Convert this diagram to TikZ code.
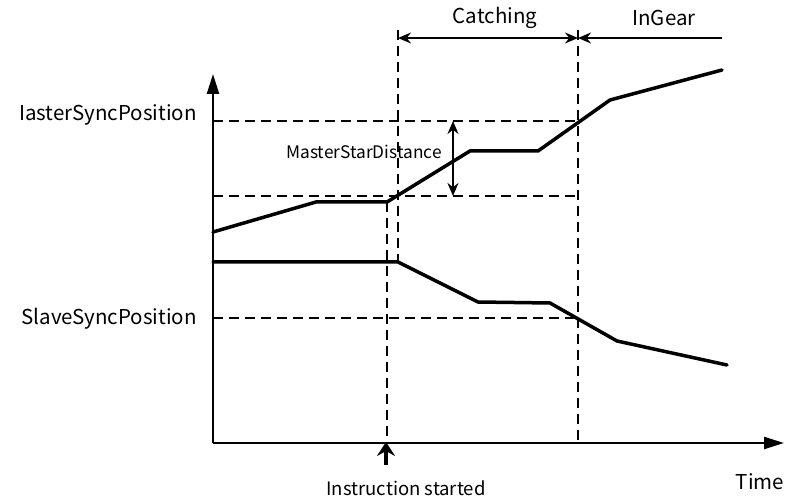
\documentclass[tikz,border=0pt]{standalone}
\usepackage{fontspec}
\setmainfont{Noto Sans CJK SC}
\usetikzlibrary{arrows.meta}
\begin{document}
\begin{tikzpicture}[x=1pt,y=-1pt,
  curve/.style={line width=3.5pt, line join=round, line cap=round},
  axisline/.style={line width=2.3pt,-{Triangle[length=20pt,width=12pt]}},
  guide/.style={line width=1.7pt, dash pattern=on 10pt off 6pt},
  dimline/.style={line width=2pt},
  lbl/.style={font=\fontsize{20.5}{24}\selectfont, inner sep=0pt},
  lblb/.style={font=\fontsize{18.5}{22}\selectfont, inner sep=0pt},
  small/.style={font=\fontsize{17.3}{20}\selectfont, inner sep=0pt}]
\useasboundingbox (0,0) rectangle (787,502);
% axes
\coordinate (O) at (213,443);
\coordinate (Ytop) at (213,74);
\coordinate (Xend) at (784,443);
\draw[axisline] (O) -- (Ytop);
\draw[axisline] (O) -- (Xend);
% master curve points
\coordinate (m0) at (213,232);
\coordinate (m1) at (316,202);
\coordinate (m2) at (387,202);
\coordinate (m3) at (470,151);
\coordinate (m4) at (538,151);
\coordinate (m5) at (610,100);
\coordinate (m6) at (722,70);
% slave curve points
\coordinate (s0) at (213,262);
\coordinate (s1) at (398,262);
\coordinate (s2) at (478,302);
\coordinate (s3) at (550,303);
\coordinate (s4) at (617,341);
\coordinate (s5) at (727,365);
% guide coordinates
\coordinate (hMa) at (213,121);
\coordinate (hMb) at (578,121);
\coordinate (hSa) at (213,196);
\coordinate (hSb) at (578,196);
\coordinate (hPa) at (213,318);
\coordinate (hPb) at (578,318);
\coordinate (vAbot) at (387,443);
\coordinate (vBtop) at (398,30);
\coordinate (vCtop) at (578,30);
\coordinate (vCbot) at (578,443);
% dashed guides
\draw[guide] (hMa) -- (hMb);
\draw[guide] (hSa) -- (hSb);
\draw[guide] (hPa) -- (hPb);
\draw[guide] (m2) -- (vAbot);
\draw[guide] (vBtop) -- (s1);
\draw[guide] (vCtop) -- (vCbot);
% curves
\draw[curve] (m0) -- (m1) -- (m2) -- (m3) -- (m4) -- (m5) -- (m6);
\draw[curve] (s0) -- (s1) -- (s2) -- (s3) -- (s4) -- (s5);
% top dimension arrows
\coordinate (cA) at (398,38);
\coordinate (cB) at (578,38);
\coordinate (gE) at (722,38);
\draw[dimline,{Stealth[length=13pt,width=11pt]}-{Stealth[length=13pt,width=11pt]}] (cA) -- (cB);
\draw[dimline,-{Stealth[length=13pt,width=11pt]}] (gE) -- (cB);
\node[lbl] (catching) at (495,18) {Catching};
\node[lbl] (ingear) at (664,18) {InGear};
% MasterStarDistance
\coordinate (dA) at (453,121);
\coordinate (dB) at (453,196);
\draw[dimline,{Stealth[length=13pt,width=11pt]}-{Stealth[length=13pt,width=11pt]}] (dA) -- (dB);
\node[small] (msd) at (364,152) {MasterStarDistance};
% instruction started
\coordinate (iA) at (386,465);
\coordinate (iB) at (386,442);
\draw[line width=3.5pt,-{Stealth[length=14pt,width=18pt,inset=5pt]}] (iA) -- (iB);
\node[lblb] (instr) at (406,488) {Instruction started};
% axis labels
\node[lbl,anchor=east] (msp) at (197,115) {IasterSyncPosition};
\node[lbl,anchor=east] (ssp) at (197,319) {SlaveSyncPosition};
\node[lbl] (time) at (760,482) {Time};
\end{tikzpicture}
\end{document}
